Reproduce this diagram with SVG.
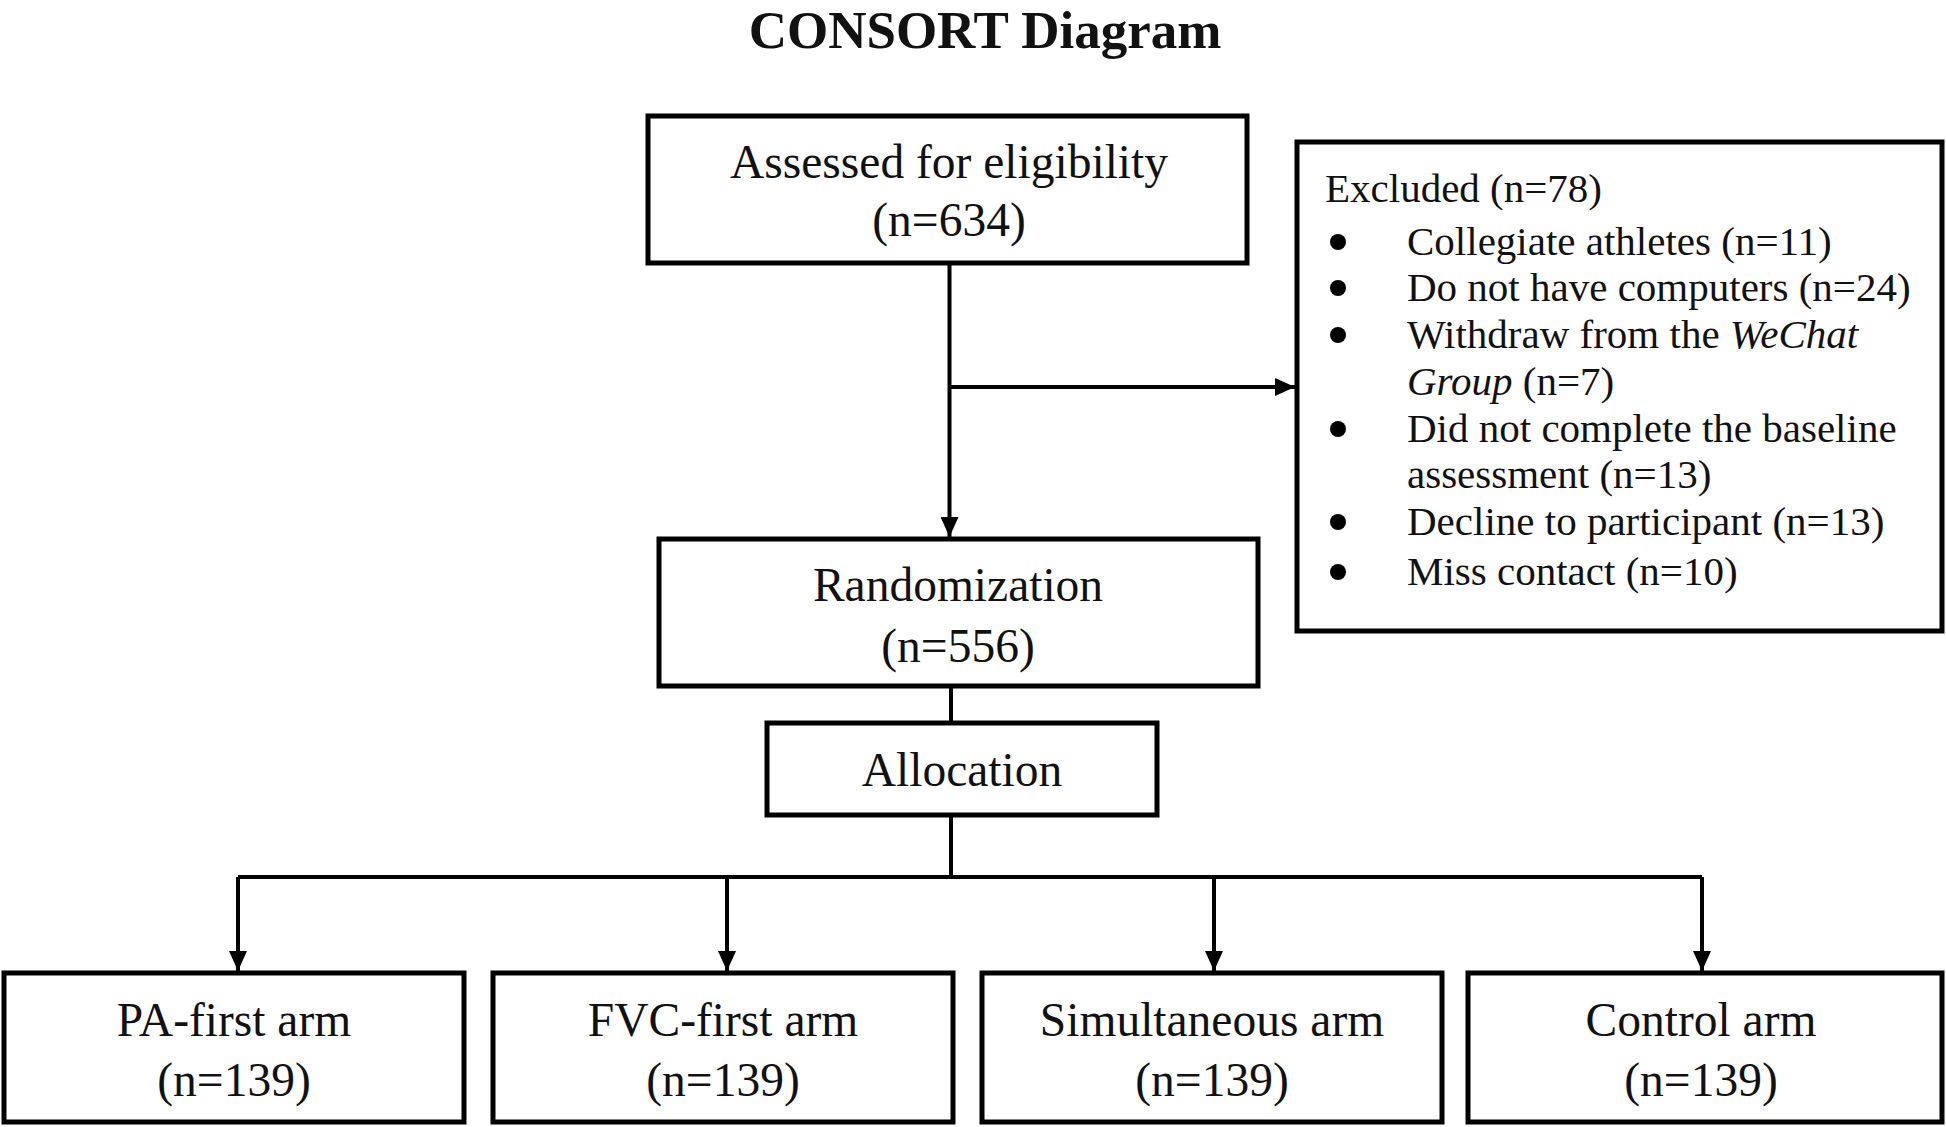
<svg xmlns="http://www.w3.org/2000/svg" width="1946" height="1127" viewBox="0 0 1946 1127">
<style>
.box{fill:#fff;stroke:#000;stroke-width:5}
.t{font-family:"Liberation Serif","Times New Roman",serif;font-size:47.5px;fill:#111;text-anchor:middle}
.e{font-family:"Liberation Serif","Times New Roman",serif;font-size:41px;fill:#111}
.title{font-family:"Liberation Serif","Times New Roman",serif;font-size:53px;font-weight:bold;fill:#111;text-anchor:middle}
.c{fill:none;stroke:#000;stroke-width:4}
</style>
<defs>
<marker id="arr" markerUnits="userSpaceOnUse" markerWidth="20" markerHeight="18" refX="20" refY="9" orient="auto">
<path d="M0,0 L20,9 L0,18 z" fill="#000"/>
</marker>
</defs>
<rect width="1946" height="1127" fill="#fff"/>
<text class="title" x="985" y="48">CONSORT Diagram</text>

<g id="connectors">
<line class="c" x1="949.5" y1="263" x2="949.5" y2="537" marker-end="url(#arr)"/>
<line class="c" x1="949.5" y1="387" x2="1295" y2="387" marker-end="url(#arr)"/>
<line class="c" x1="951" y1="686" x2="951" y2="723"/>
<line class="c" x1="951" y1="815" x2="951" y2="877"/>
<polyline class="c" points="238,877 1702,877"/>
<line class="c" x1="238" y1="877" x2="238" y2="971" marker-end="url(#arr)"/>
<line class="c" x1="727" y1="877" x2="727" y2="971" marker-end="url(#arr)"/>
<line class="c" x1="1214" y1="877" x2="1214" y2="971" marker-end="url(#arr)"/>
<line class="c" x1="1702" y1="877" x2="1702" y2="971" marker-end="url(#arr)"/>
</g>

<g id="assessed">
<rect class="box" x="648" y="116" width="599" height="147"/>
<text class="t" x="949" y="178">Assessed for eligibility</text>
<text class="t" x="949" y="236">(n=634)</text>
</g>

<g id="excluded">
<rect class="box" x="1297" y="142" width="645" height="489"/>
<text class="e" x="1325" y="202">Excluded (n=78)</text>
<g fill="#000">
<circle cx="1338" cy="242" r="8"/>
<circle cx="1338" cy="288" r="8"/>
<circle cx="1338" cy="335" r="8"/>
<circle cx="1338" cy="429" r="8"/>
<circle cx="1338" cy="522" r="8"/>
<circle cx="1338" cy="572" r="8"/>
</g>
<text class="e" x="1407" y="255">Collegiate athletes (n=11)</text>
<text class="e" x="1407" y="301">Do not have computers (n=24)</text>
<text class="e" x="1407" y="348">Withdraw from the <tspan font-style="italic">WeChat</tspan></text>
<text class="e" x="1407" y="395"><tspan font-style="italic">Group</tspan> (n=7)</text>
<text class="e" x="1407" y="442">Did not complete the baseline</text>
<text class="e" x="1407" y="488">assessment (n=13)</text>
<text class="e" x="1407" y="535">Decline to participant (n=13)</text>
<text class="e" x="1407" y="585">Miss contact (n=10)</text>
</g>

<g id="randomization">
<rect class="box" x="659" y="539" width="599" height="147"/>
<text class="t" x="958" y="601">Randomization</text>
<text class="t" x="958" y="662">(n=556)</text>
</g>

<g id="allocation">
<rect class="box" x="767" y="723" width="390" height="92"/>
<text class="t" x="962" y="786">Allocation</text>
</g>

<g id="pa-first">
<rect class="box" x="4" y="973" width="460" height="149"/>
<text class="t" x="234" y="1036">PA-first arm</text>
<text class="t" x="234" y="1096">(n=139)</text>
</g>
<g id="fvc-first">
<rect class="box" x="493" y="973" width="460" height="149"/>
<text class="t" x="723" y="1036">FVC-first arm</text>
<text class="t" x="723" y="1096">(n=139)</text>
</g>
<g id="simultaneous">
<rect class="box" x="982" y="973" width="460" height="149"/>
<text class="t" x="1212" y="1036">Simultaneous arm</text>
<text class="t" x="1212" y="1096">(n=139)</text>
</g>
<g id="control">
<rect class="box" x="1468" y="973" width="474" height="149"/>
<text class="t" x="1701" y="1036">Control arm</text>
<text class="t" x="1701" y="1096">(n=139)</text>
</g>
</svg>
